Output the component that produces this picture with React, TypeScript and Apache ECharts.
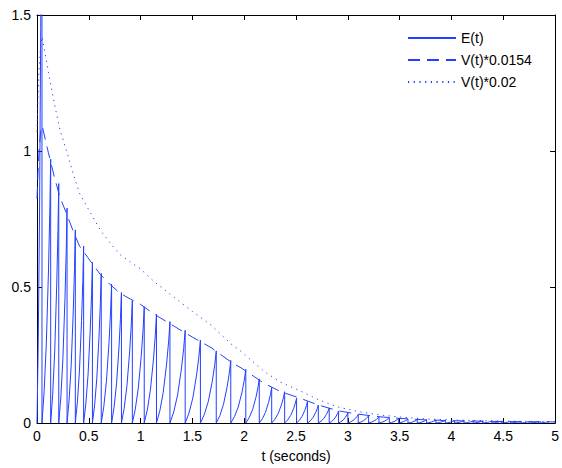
import React, { useEffect, useRef } from 'react';
import * as echarts from 'echarts';

// Times (s) at which each E(t) tooth reaches its peak and drops back to 0
const T_DROPS = [0.048, 0.132, 0.21, 0.29, 0.37, 0.45, 0.535, 0.62, 0.72, 0.815, 0.92, 1.035, 1.153, 1.283, 1.43, 1.577, 1.73, 1.87, 2.015, 2.145, 2.265, 2.39, 2.505, 2.61, 2.715, 2.82, 2.91, 3.0, 3.1, 3.2, 3.3, 3.4, 3.49, 3.58, 3.67, 3.76, 3.85, 3.94, 4.03, 4.12, 4.21, 4.3, 4.39, 4.48, 4.57, 4.66, 4.75, 4.84, 4.93];
// Peak value of each tooth
const E_PEAKS = [2.5, 0.97, 0.88, 0.79, 0.71, 0.65, 0.59, 0.55, 0.51, 0.48, 0.45, 0.427, 0.40, 0.373, 0.341, 0.305, 0.265, 0.23, 0.197, 0.162, 0.131, 0.115, 0.091, 0.079, 0.066, 0.055, 0.044, 0.037, 0.031, 0.027, 0.023, 0.02, 0.017, 0.015, 0.013, 0.012, 0.011, 0.01, 0.009, 0.0085, 0.008, 0.0075, 0.007, 0.0065, 0.006, 0.0058, 0.0055, 0.0052, 0.005];
// Shape of a tooth's rise (fraction of period, fraction of peak)
const RISE_FRAC_T = [0, 0.25, 0.5, 0.75, 0.9, 1];
const RISE_FRAC_V = [0, 0.12, 0.3, 0.58, 0.8, 1];

// V(t) samples
const V_T = [0, 0.01, 0.02, 0.035, 0.05, 0.077, 0.11, 0.14, 0.17, 0.22, 0.285, 0.35, 0.41, 0.49, 0.61, 0.7, 0.8, 0.9, 1.0, 1.13, 1.33, 1.5, 1.68, 1.875, 1.98, 2.19, 2.35, 2.53, 2.72, 2.91, 3.1, 3.3, 3.5, 3.75, 4.0, 4.5, 5.0];
const V_RAW = [53.5, 60, 65, 69.5, 71, 68, 64.5, 61.5, 58.5, 54, 50, 45.75, 42.25, 39.5, 35.5, 33.2, 31.0, 29.6, 28.3, 26, 23, 20.5, 18, 14.5, 13, 9.5, 7.5, 6, 4.25, 2.9, 2.1, 1.5, 1.1, 0.75, 0.55, 0.35, 0.25];

const X_TICKS = { min: 0, max: 5, interval: 0.5 };
const Y_TICKS = { min: 0, max: 1.5, interval: 0.5 };

const FONT = '"Liberation Sans", Helvetica, Arial, sans-serif';
const BLUE = '#2340ff';

function buildE(): [number, number][] {
  const out: [number, number][] = [[0, 0]];
  let prev = 0;
  for (let i = 0; i < T_DROPS.length; i++) {
    const t = T_DROPS[i];
    const p = E_PEAKS[i];
    for (let k = 1; k < RISE_FRAC_T.length; k++) {
      out.push([prev + RISE_FRAC_T[k] * (t - prev), RISE_FRAC_V[k] * p]);
    }
    out.push([t, 0]);
    prev = t;
  }
  return out;
}

export default function App() {
  const ref = useRef<HTMLDivElement>(null);
  useEffect(() => {
    const chart = echarts.init(ref.current!, null, { renderer: 'svg' });
    const axisLine = { show: true, onZero: false, lineStyle: { color: '#000', width: 1 } };
    const tick = { show: true, inside: true, length: 5, lineStyle: { color: '#000', width: 1 } };
    const label = { color: '#000', fontSize: 14, fontFamily: FONT };
    const noSymbol = { color: 'transparent', borderWidth: 0, opacity: 0 };
    const option: any = {
      animation: false,
      backgroundColor: '#fff',
      grid: { left: 37, top: 15, right: 5, bottom: 43, containLabel: false },
      legend: {
        data: [
          { name: 'E(t)', itemStyle: noSymbol },
          { name: 'V(t)*0.0154', itemStyle: noSymbol },
          { name: 'V(t)*0.02', itemStyle: noSymbol },
        ],
        orient: 'vertical',
        left: 407,
        top: 31,
        padding: 0,
        itemWidth: 48,
        itemHeight: 14,
        itemGap: 8,
        itemStyle: noSymbol,
        textStyle: { color: '#000', fontSize: 14, fontFamily: FONT },
      },
      xAxis: [
        {
          type: 'value', ...X_TICKS, position: 'bottom',
          axisLine, axisTick: tick,
          axisLabel: { ...label, margin: 6 },
          splitLine: { show: false },
          name: 't (seconds)', nameLocation: 'middle', nameGap: 26,
          nameTextStyle: { color: '#000', fontSize: 14, fontFamily: FONT },
        },
        {
          type: 'value', ...X_TICKS, position: 'top',
          axisLine, axisTick: tick, axisLabel: { show: false }, splitLine: { show: false },
        },
      ],
      yAxis: [
        {
          type: 'value', ...Y_TICKS, position: 'left',
          axisLine, axisTick: tick,
          axisLabel: { ...label, margin: 6 },
          splitLine: { show: false },
        },
        {
          type: 'value', ...Y_TICKS, position: 'right',
          axisLine, axisTick: tick, axisLabel: { show: false }, splitLine: { show: false },
        },
      ],
      series: [
        {
          name: 'E(t)', type: 'line', data: buildE(), symbol: 'none', clip: true,
          lineStyle: { color: BLUE, width: 1 }, itemStyle: { color: BLUE },
        },
        {
          name: 'V(t)*0.0154', type: 'line', data: V_T.map((t, i) => [t, V_RAW[i] * 0.0154]),
          symbol: 'none', clip: true,
          lineStyle: { color: BLUE, width: 1, type: [12, 7] }, itemStyle: { color: BLUE },
        },
        {
          name: 'V(t)*0.02', type: 'line', data: V_T.map((t, i) => [t, V_RAW[i] * 0.02]),
          symbol: 'none', clip: true,
          lineStyle: { color: BLUE, width: 1, type: [1.2, 4.5] }, itemStyle: { color: BLUE },
        },
      ],
    };
    chart.setOption(option);
    return () => chart.dispose();
  }, []);
  return (
    <div
      ref={ref}
      style={{ position: 'absolute', left: 0, top: 0, width: 562, height: 468, background: '#fff' }}
    />
  );
}
